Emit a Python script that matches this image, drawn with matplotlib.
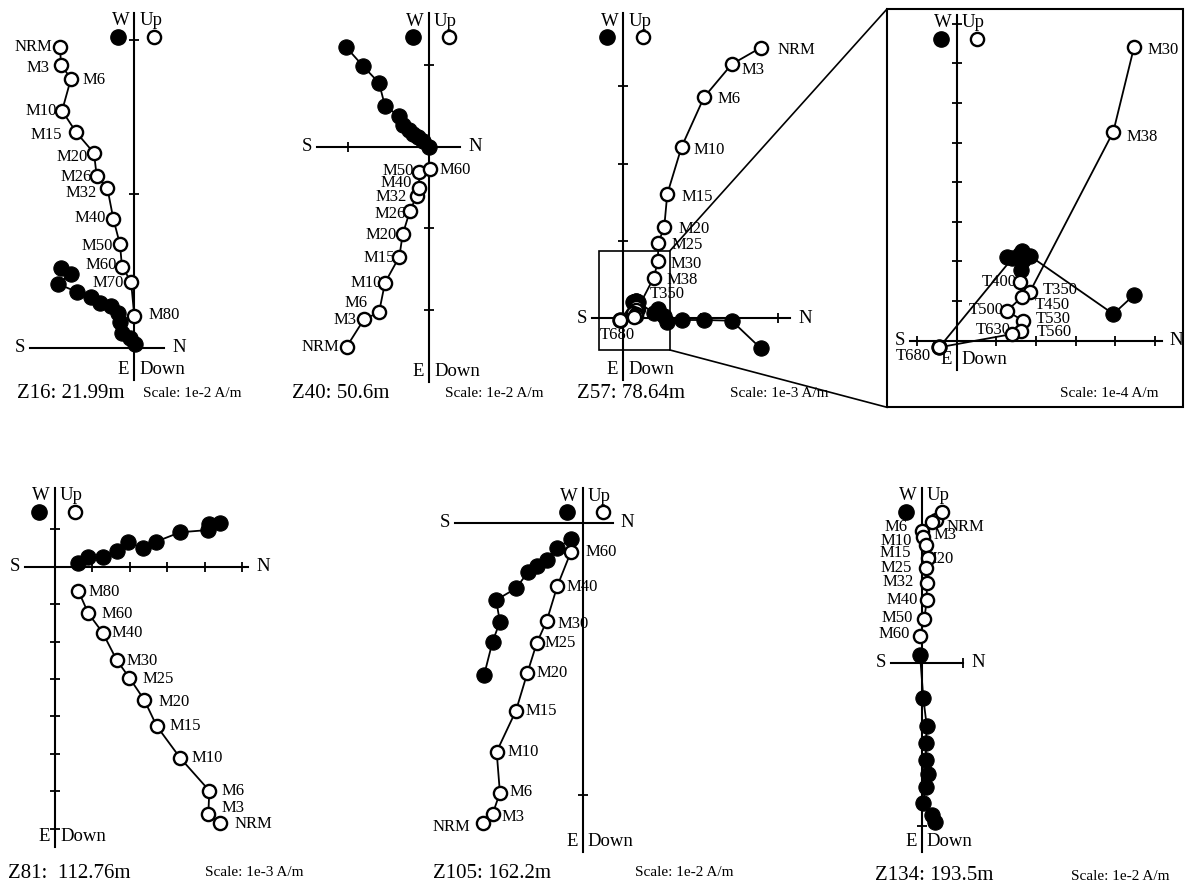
import matplotlib.pyplot as plt

plt.rcParams['font.family'] = ['Liberation Serif', 'DejaVu Serif']

W, H = 1186, 886

# values are in tick units of each diagram's own scale
# open = vertical projection (N, Up), filled = horizontal projection (N, W)

# Z16
z16_steps = ['NRM', 'M3', 'M6', 'M10', 'M15', 'M20', 'M26', 'M32', 'M40', 'M50', 'M60', 'M70', 'M80']
z16_up_n = [-0.482, -0.476, -0.411, -0.469, -0.379, -0.262, -0.244, -0.175, -0.136, -0.093, -0.080, -0.021, 0.000]
z16_up_v = [1.951, 1.836, 1.747, 1.539, 1.401, 1.264, 1.115, 1.037, 0.836, 0.671, 0.526, 0.429, 0.206]
z16_hz_n = [-0.476, -0.411, -0.495, -0.372, -0.281, -0.223, -0.151, -0.106, -0.093, -0.080, -0.028, 0.005]
z16_hz_w = [0.518, 0.479, 0.414, 0.362, 0.329, 0.290, 0.271, 0.225, 0.167, 0.096, 0.064, 0.024]

# Z40
z40_steps = ['NRM', 'M3', 'M6', 'M10', 'M15', 'M20', 'M26', 'M32', 'M40', 'M50', 'M60']
z40_up_n = [-1.010, -0.798, -0.613, -0.540, -0.364, -0.323, -0.233, -0.151, -0.123, -0.119, 0.012]
z40_up_v = [-2.454, -2.118, -2.032, -1.669, -1.350, -1.075, -0.785, -0.605, -0.511, -0.307, -0.278]
z40_hz_n = [-1.018, -0.810, -0.613, -0.540, -0.368, -0.319, -0.245, -0.196, -0.135, -0.074, 0.000]
z40_hz_w = [1.223, 0.990, 0.782, 0.500, 0.377, 0.266, 0.205, 0.156, 0.119, 0.070, -0.004]

# Z57 detail (scale 1e-4 A/m)
zin_steps = ['M30', 'M38', 'T350', 'T400', 'T450', 'T500', 'T530', 'T560', 'T630', 'T680']
zin_up_n = [4.477, 3.955, 1.851, 1.598, 1.641, 1.263, 1.682, 1.616, 1.404, -0.439]
zin_up_v = [7.409, 5.278, 1.237, 1.475, 1.096, 0.750, 0.505, 0.253, 0.169, -0.167]
zin_hz_n = [4.477, 3.955, 1.851, 1.598, 1.641, 1.263, 1.682, 1.616, 1.404, -0.439]
zin_hz_w = [1.154, 0.674, 2.139, 2.200, 2.260, 2.114, 2.050, 1.785, 2.080, -0.167]

# Z57 AF steps (scale 1e-3 A/m), later steps are the detail data above
z57_af_steps = ['NRM', 'M3', 'M6', 'M10', 'M15', 'M20', 'M25']
z57_af_up_n = [1.778, 1.402, 1.044, 0.755, 0.569, 0.530, 0.453]
z57_af_up_v = [3.501, 3.286, 2.859, 2.220, 1.608, 1.185, 0.970]
z57_af_hz_n = [1.778, 1.402, 1.044, 0.755, 0.569, 0.530, 0.453]
z57_af_hz_w = [-0.388, -0.031, -0.022, -0.022, -0.048, 0.030, 0.100]
z57_shown = ['NRM', 'M3', 'M6', 'M10', 'M15', 'M20', 'M25', 'M30', 'M38', 'T350', 'T680']

# Z81
z81_steps = ['NRM', 'M3', 'M6', 'M10', 'M15', 'M20', 'M25', 'M30', 'M40', 'M60', 'M80']
z81_up_n = [4.412, 4.100, 4.126, 3.342, 2.719, 2.388, 1.987, 1.649, 1.275, 0.890, 0.623]
z81_up_v = [-6.845, -6.612, -5.989, -5.107, -4.259, -3.564, -2.968, -2.495, -1.765, -1.246, -0.642]
z81_hz_n = [4.412, 4.126, 4.100, 3.342, 2.701, 2.362, 1.961, 1.649, 1.275, 0.890, 0.606]
z81_hz_w = [1.176, 1.142, 0.981, 0.920, 0.668, 0.492, 0.652, 0.428, 0.251, 0.251, 0.091]

# Z105
z105_steps = ['NRM', 'M3', 'M6', 'M10', 'M15', 'M20', 'M25', 'M30', 'M40', 'M60']
z105_up_n = [-0.365, -0.331, -0.304, -0.316, -0.245, -0.203, -0.169, -0.132, -0.093, -0.044]
z105_up_v = [-1.102, -1.070, -0.992, -0.841, -0.690, -0.551, -0.443, -0.360, -0.232, -0.109]
z105_hz_n = [-0.362, -0.331, -0.304, -0.318, -0.245, -0.200, -0.169, -0.132, -0.095, -0.044]
z105_hz_w = [-0.559, -0.437, -0.364, -0.284, -0.241, -0.180, -0.159, -0.137, -0.094, -0.060]

# Z134
z134_steps = ['NRM', 'M3', 'M6', 'M10', 'M15', 'M20', 'M25', 'M32', 'M40', 'M50', 'M60']
z134_up_n = [0.088, 0.061, 0.000, 0.006, 0.026, 0.040, 0.026, 0.031, 0.031, 0.016, -0.010]
z134_up_v = [0.874, 0.863, 0.808, 0.768, 0.721, 0.639, 0.582, 0.490, 0.384, 0.266, 0.164]
z134_hz_n = [0.081, 0.061, 0.006, 0.026, 0.041, 0.026, 0.026, 0.031, 0.010, -0.010]
z134_hz_w = [-0.974, -0.933, -0.861, -0.759, -0.680, -0.596, -0.490, -0.388, -0.218, 0.047]

captions = ['Z16: 21.99m', 'Z40: 50.6m', 'Z57: 78.64m', 'Z81:  112.76m', 'Z105: 162.2m', 'Z134: 193.5m']
scales = ['Scale: 1e-2 A/m', 'Scale: 1e-2 A/m', 'Scale: 1e-3 A/m', 'Scale: 1e-4 A/m',
          'Scale: 1e-3 A/m', 'Scale: 1e-2 A/m', 'Scale: 1e-2 A/m']

# label offsets in pixels (dx, dy up, alignment)
z16_offs = [(-8, 0, 'r'), (-11, -3, 'r'), (12, -1, 'l'), (-5, 0, 'r'), (-14, -3, 'r'), (-6, -4, 'r'),
            (-5, -1, 'r'), (-11, -5, 'r'), (-7, 1, 'r'), (-7, -2, 'r'), (-5, 2, 'r'), (-7, -1, 'r'), (14, 1, 'l')]
z40_offs = [(-7, 0, 'r'), (-7, -1, 'r'), (-11, 9, 'r'), (-3, 0, 'r'), (-4, -1, 'r'), (-6, -1, 'r'),
            (-4, -3, 'r'), (-10, -1, 'r'), (-7, 5, 'r'), (-5, 1, 'r'), (10, -1, 'l')]
z57_offs = [(17, -2, 'l'), (10, -6, 'l'), (14, -2, 'l'), (12, -3, 'l'), (14, -3, 'l'), (14, -2, 'l'),
            (13, -2, 'l'), (13, -3, 'l'), (13, -2, 'l'), (12, 15, 'l'), (0, 0, 'l'), (0, 0, 'l'),
            (0, 0, 'l'), (0, 0, 'l'), (0, 0, 'l'), (0, 0, 'l'), (-3, -15, 'c')]
zin_offs = [(14, -3, 'l'), (13, -5, 'l'), (13, 2, 'l'), (-3, 0, 'r'), (13, -8, 'l'), (-3, 1, 'r'),
            (12, 2, 'l'), (16, -1, 'l'), (-2, 4, 'r'), (-8, -9, 'r')]
z81_offs = [(15, -1, 'l'), (13, 6, 'l'), (12, 0, 'l'), (12, 0, 'l'), (13, 0, 'l'), (14, -2, 'l'),
            (13, -1, 'l'), (10, -1, 'l'), (9, 0, 'l'), (13, -1, 'l'), (10, -1, 'l')]
z105_offs = [(-13, -4, 'r'), (9, -3, 'l'), (10, 1, 'l'), (11, 0, 'l'), (10, 0, 'l'), (9, 0, 'l'),
             (8, 0, 'l'), (11, -3, 'l'), (9, -1, 'l'), (15, 0, 'l')]
z134_offs = [(10, -7, 'l'), (2, -13, 'l'), (-14, 4, 'r'), (-11, -4, 'r'), (-15, -8, 'r'), (-6, -1, 'l'),
             (-14, 0, 'r'), (-13, 1, 'r'), (-9, 0, 'r'), (-11, 1, 'r'), (-10, 2, 'r')]

HA = {'l': 'left', 'r': 'right', 'c': 'center'}

fig = plt.figure(figsize=(W / 100, H / 100), dpi=100)

# page-level layer in pixel coordinates: captions, inset frame, connectors
ax0 = fig.add_axes([0, 0, 1, 1], label='page')
ax0.set_xlim(0, W)
ax0.set_ylim(H, 0)
ax0.set_axis_off()
for (x, y), txt in zip([(17, 393), (292, 393), (577, 393), (8, 873), (433, 873), (875, 876)], captions):
    ax0.text(x, y, txt, fontsize=15, va='center')
for (x, y), txt in zip([(143, 393), (445, 393), (730, 393), (1060, 393), (205, 873), (635, 873), (1071, 876)], scales):
    ax0.text(x, y, txt, fontsize=11, va='center')
ax0.add_patch(plt.Rectangle((887, 9), 296, 398, fill=False, lw=1.5, color='k'))
ax0.add_patch(plt.Rectangle((599.3, 250.7), 70.7, 99.3, fill=False, lw=1.2, color='k'))
ax0.plot([670, 887], [250.7, 9], color='k', lw=1.2)
ax0.plot([670, 887], [350, 407.3], color='k', lw=1.2)


def zijderveld(lay, hz_n, hz_w, up_n, up_v, steps, offs, name):
    ox, oy = lay['o']
    u = lay['u']
    ax = fig.add_axes([0, 0, 1, 1], label=name)
    ax.set_xlim(-ox / u, (W - ox) / u)
    ax.set_ylim((oy - H) / u, oy / u)
    ax.set_axis_off()
    top = (oy - lay['v'][0]) / u
    bot = (oy - lay['v'][1]) / u
    left = (lay['h'][0] - ox) / u
    right = (lay['h'][1] - ox) / u

    ax.plot([left, right], [0, 0], color='k', lw=1.5, zorder=2)
    ax.plot([0, 0], [bot, top], color='k', lw=1.5, zorder=2)
    ax.plot(lay['xt'], [0] * len(lay['xt']), ls='none', marker='|', ms=7, mew=1.3, color='k')
    ax.plot([0] * len(lay['yt']), lay['yt'], ls='none', marker='_', ms=7, mew=1.3, color='k')

    ax.plot(hz_n, hz_w, color='k', lw=1.3, marker='o', ms=11, mfc='k', mec='k', mew=0.8, zorder=3)
    ax.plot(up_n, up_v, color='k', lw=1.3, marker='o', ms=9.5, mfc='w', mec='k', mew=1.7, zorder=4)

    # legend symbols beside the W / Up labels
    ax.plot(-16 / u, top - 24 / u, ls='none', marker='o', ms=11, color='k', zorder=4)
    ax.plot(20 / u, top - 24 / u, ls='none', marker='o', ms=9.5, mfc='w', mec='k', mew=1.7, zorder=4)

    kw = dict(textcoords='offset pixels', va='center', fontsize=13.5)
    ax.annotate('W', (0, top), xytext=(-5, -8), ha='right', **kw)
    ax.annotate('Up', (0, top), xytext=(5, -8), ha='left', **kw)
    ax.annotate('E', (0, bot), xytext=(-5, 10), ha='right', **kw)
    ax.annotate('Down', (0, bot), xytext=(5, 10), ha='left', **kw)
    ax.annotate('S', (left, 0), xytext=(-5, 0), ha='right', **kw)
    ax.annotate('N', (right, 0), xytext=(8, 0), ha='left', **kw)

    for s, x, y, (dx, dy, al) in zip(steps, up_n, up_v, offs):
        if s:
            ax.annotate(s, (x, y), xytext=(dx, dy), textcoords='offset pixels',
                        ha=HA[al], va='center', fontsize=12, zorder=1)
    return ax


lay_z16 = dict(o=(134.3, 347.7), u=154.0, v=(13, 380), h=(30, 164), xt=[], yt=[1, 2])
lay_z40 = dict(o=(429.0, 146.7), u=81.5, v=(13, 381.7), h=(316.7, 460), xt=[-1], yt=[1, -1, -2])
lay_z57 = dict(o=(623.3, 318.3), u=77.3, v=(13, 380), h=(591.7, 790), xt=[1, 2], yt=[1, 2, 3])
lay_zin = dict(o=(956.7, 340.7), u=39.6, v=(15, 370), h=(910, 1161.7), xt=[-1, 1, 2, 3, 4, 5],
               yt=[1, 2, 3, 4, 5, 6, 7, 8])
lay_z81 = dict(o=(55.0, 566.7), u=37.4, v=(488, 846.7), h=(25, 248.3), xt=[1, 2, 3, 4, 5],
               yt=[1, -1, -2, -3, -4, -5, -6, -7])
lay_z105 = dict(o=(582.7, 522.7), u=272.3, v=(488, 851.7), h=(455, 612.7), xt=[], yt=[-1])
lay_z134 = dict(o=(921.7, 662.7), u=163.3, v=(488, 851.7), h=(891, 963.3), xt=[0.255], yt=[-1])

zijderveld(lay_z16, z16_hz_n, z16_hz_w, z16_up_n, z16_up_v, z16_steps, z16_offs, 'z16')
zijderveld(lay_z40, z40_hz_n, z40_hz_w, z40_up_n, z40_up_v, z40_steps, z40_offs, 'z40')

# Z57: AF steps followed by the detail steps converted from 1e-4 to 1e-3 A/m
z57_steps = z57_af_steps + zin_steps
z57_labels = [s if s in z57_shown else '' for s in z57_steps]
z57_up_n = z57_af_up_n + [v / 10 for v in zin_up_n]
z57_up_v = z57_af_up_v + [v / 10 for v in zin_up_v]
z57_hz_n = z57_af_hz_n + [v / 10 for v in zin_hz_n]
z57_hz_w = z57_af_hz_w + [v / 10 for v in zin_hz_w]
zijderveld(lay_z57, z57_hz_n, z57_hz_w, z57_up_n, z57_up_v, z57_labels, z57_offs, 'z57')
zijderveld(lay_zin, zin_hz_n, zin_hz_w, zin_up_n, zin_up_v, zin_steps, zin_offs, 'z57in')

zijderveld(lay_z81, z81_hz_n, z81_hz_w, z81_up_n, z81_up_v, z81_steps, z81_offs, 'z81')
zijderveld(lay_z105, z105_hz_n, z105_hz_w, z105_up_n, z105_up_v, z105_steps, z105_offs, 'z105')
zijderveld(lay_z134, z134_hz_n, z134_hz_w, z134_up_n, z134_up_v, z134_steps, z134_offs, 'z134')

fig.savefig('out.png', dpi=100)
